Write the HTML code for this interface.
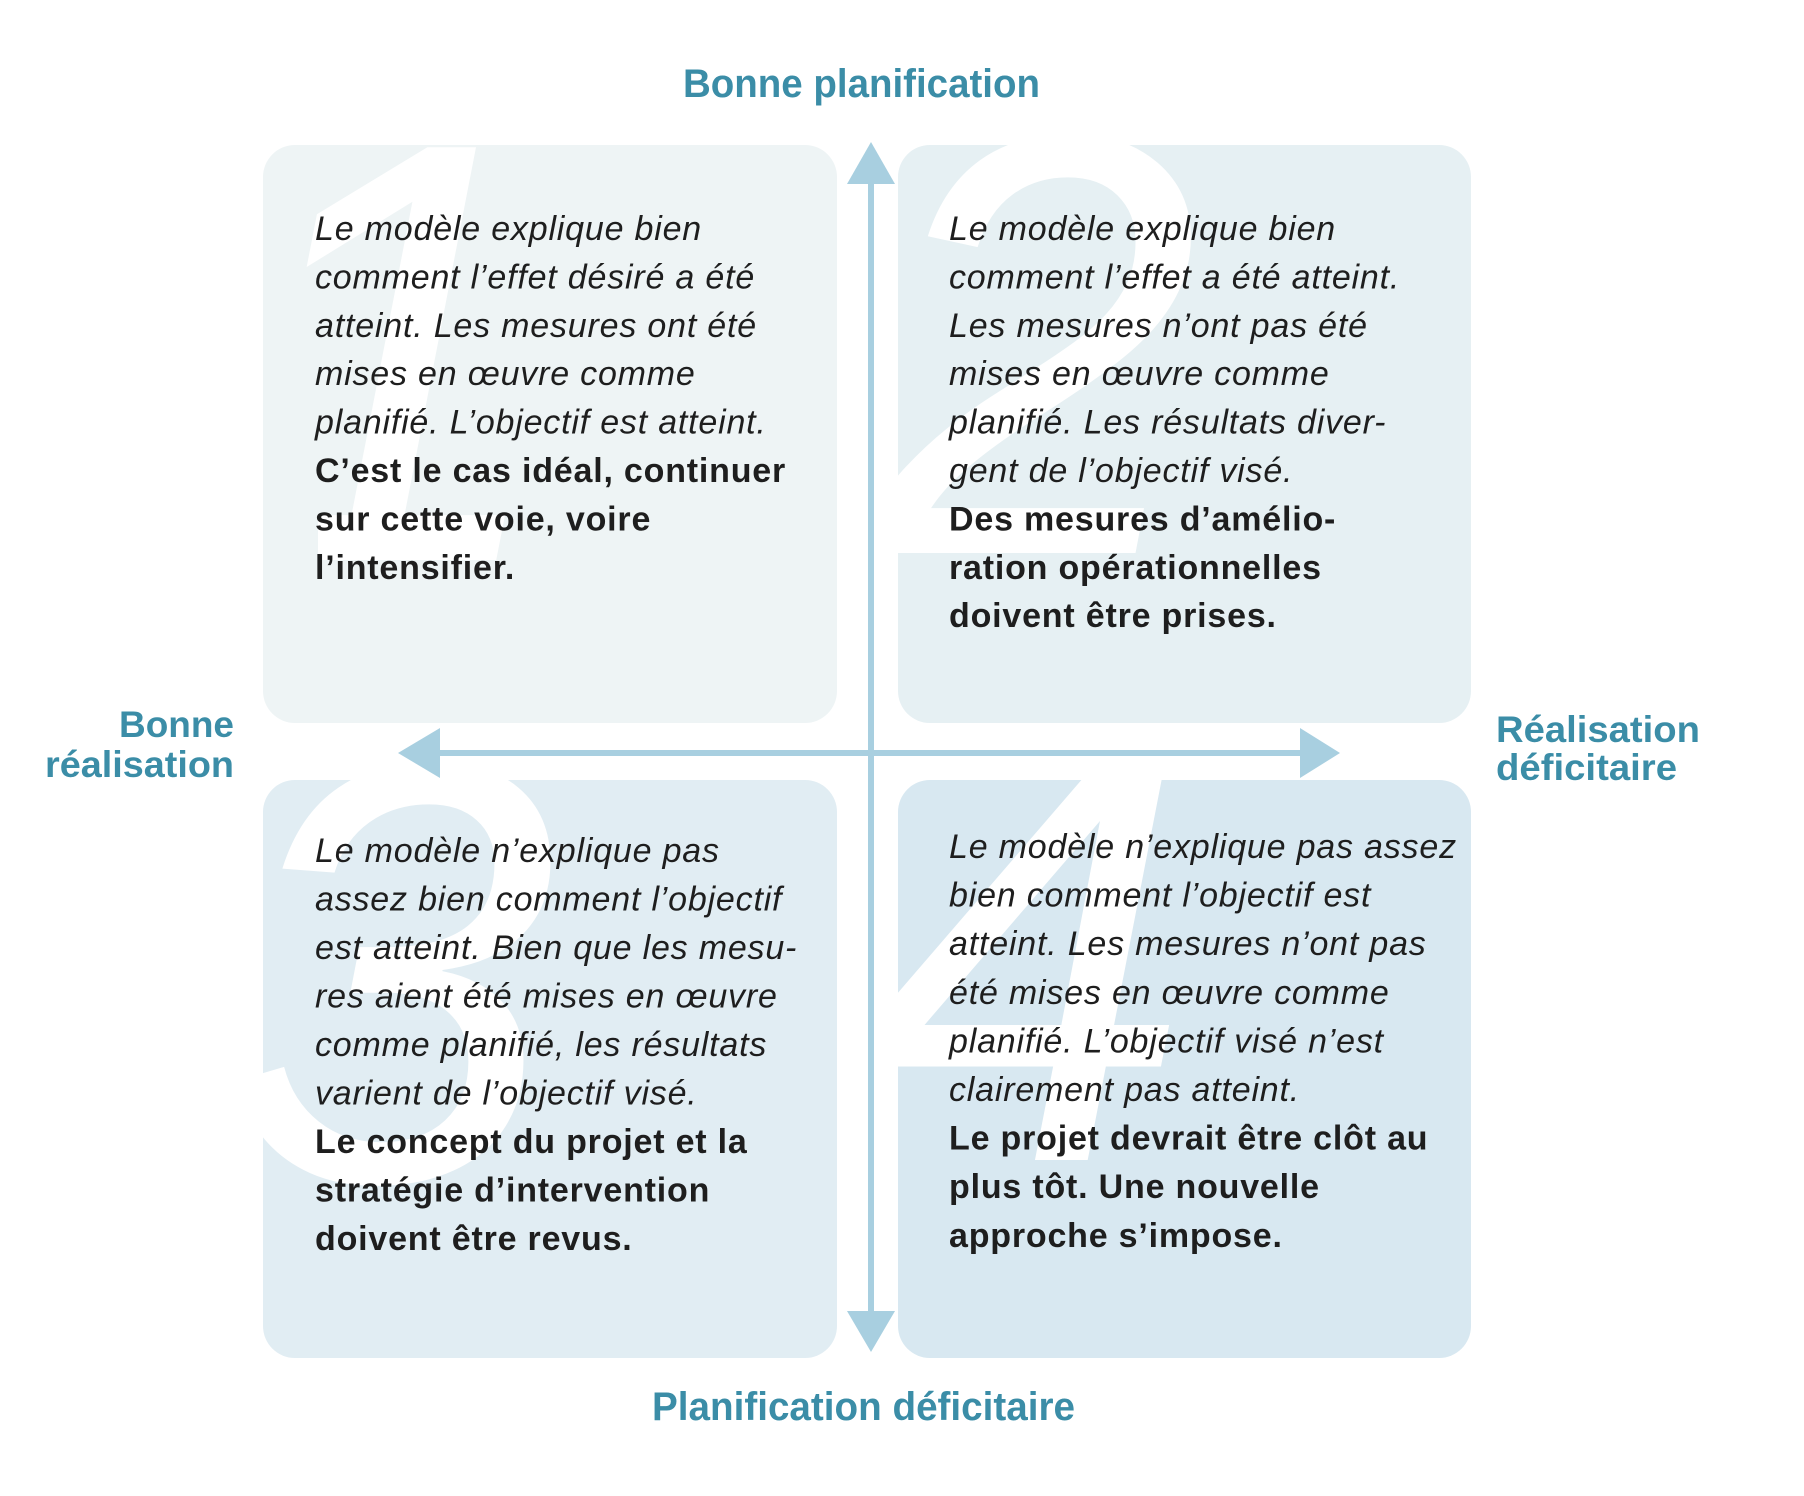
<!DOCTYPE html>
<html>
<head>
<meta charset="utf-8">
<style>
  html, body { margin: 0; padding: 0; background: #ffffff; }
  svg { display: block; }
  .it { font-family: "Liberation Sans", Arial, sans-serif; font-style: italic; font-size: 34px; letter-spacing: 0.8px; fill: #1e1e1e; }
  .bd { font-family: "Liberation Sans", Arial, sans-serif; font-weight: bold; font-size: 34px; letter-spacing: 0.8px; fill: #1e1e1e; }
  .lbl { font-family: "Liberation Sans", Arial, sans-serif; font-weight: bold; fill: #3b8da7; }
  .num { font-family: "Liberation Sans", Arial, sans-serif; font-style: italic; font-size: 600px; fill: #ffffff; }
</style>
</head>
<body>
<svg width="1804" height="1496" viewBox="0 0 1804 1496" xmlns="http://www.w3.org/2000/svg">
  <defs>
    <clipPath id="c1"><rect x="263" y="145" width="574" height="578" rx="32" ry="32"/></clipPath>
    <clipPath id="c1b"><polygon points="0,0 900,0 900,800 318,800 318,500 0,500"/></clipPath>
    <clipPath id="c2"><rect x="898" y="145" width="573" height="578" rx="32" ry="32"/></clipPath>
    <clipPath id="c3"><rect x="263" y="780" width="574" height="578" rx="32" ry="32"/></clipPath>
    <clipPath id="c4"><rect x="898" y="780" width="573" height="578" rx="32" ry="32"/></clipPath>
  </defs>

  <rect x="0" y="0" width="1804" height="1496" fill="#ffffff"/>

  <!-- Boxes -->
  <rect x="263" y="145" width="574" height="578" rx="32" ry="32" fill="#eef4f5"/>
  <rect x="898" y="145" width="573" height="578" rx="32" ry="32" fill="#e6f0f3"/>
  <rect x="263" y="780" width="574" height="578" rx="32" ry="32" fill="#e1edf3"/>
  <rect x="898" y="780" width="573" height="578" rx="32" ry="32" fill="#d8e8f1"/>

  <!-- Big background numerals -->
  <g clip-path="url(#c1)"><g clip-path="url(#c1b)"><text class="num" x="222" y="560">1</text></g></g>
  <g clip-path="url(#c2)"><text class="num" x="866" y="553">2</text></g>
  <g clip-path="url(#c3)"><text class="num" x="222" y="1180">3</text></g>
  <g clip-path="url(#c4)"><text class="num" x="858" y="1160">4</text></g>

  <!-- Axes -->
  <g fill="#a8cfe0">
    <rect x="868" y="180" width="6" height="1135"/>
    <polygon points="871,142 847,184 895,184"/>
    <polygon points="871,1352 847,1311 895,1311"/>
    <rect x="436" y="750" width="868" height="6"/>
    <polygon points="398,753 440,728 440,778"/>
    <polygon points="1340,753 1300,728 1300,778"/>
  </g>

  <!-- Axis labels -->
  <text class="lbl" x="683" y="97" font-size="40" textLength="357" lengthAdjust="spacingAndGlyphs">Bonne planification</text>
  <text class="lbl" x="652" y="1420" font-size="40" textLength="423" lengthAdjust="spacingAndGlyphs">Planification déficitaire</text>
  <text class="lbl" x="119" y="737" font-size="37" textLength="115" lengthAdjust="spacingAndGlyphs">Bonne</text>
  <text class="lbl" x="45" y="777" font-size="37" textLength="189" lengthAdjust="spacingAndGlyphs">réalisation</text>
  <text class="lbl" x="1496" y="742" font-size="37" textLength="204" lengthAdjust="spacingAndGlyphs">Réalisation</text>
  <text class="lbl" x="1496" y="780" font-size="37" textLength="181" lengthAdjust="spacingAndGlyphs">déficitaire</text>

  <!-- Box 1 -->
  <text class="it" x="315" y="240">Le modèle explique bien</text>
  <text class="it" x="315" y="288.4">comment l’effet désiré a été</text>
  <text class="it" x="315" y="336.8">atteint. Les mesures ont été</text>
  <text class="it" x="315" y="385.2">mises en œuvre comme</text>
  <text class="it" x="315" y="433.6">planifié. L’objectif est atteint.</text>
  <text class="bd" x="315" y="482">C’est le cas idéal, continuer</text>
  <text class="bd" x="315" y="530.4">sur cette voie, voire</text>
  <text class="bd" x="315" y="578.8">l’intensifier.</text>

  <!-- Box 2 -->
  <text class="it" x="949" y="240">Le modèle explique bien</text>
  <text class="it" x="949" y="288.4">comment l’effet a été atteint.</text>
  <text class="it" x="949" y="336.8">Les mesures n’ont pas été</text>
  <text class="it" x="949" y="385.2">mises en œuvre comme</text>
  <text class="it" x="949" y="433.6">planifié. Les résultats diver-</text>
  <text class="it" x="949" y="482">gent de l’objectif visé.</text>
  <text class="bd" x="949" y="530.4">Des mesures d’amélio-</text>
  <text class="bd" x="949" y="578.8">ration opérationnelles</text>
  <text class="bd" x="949" y="627.2">doivent être prises.</text>

  <!-- Box 3 -->
  <text class="it" x="315" y="862">Le modèle n’explique pas</text>
  <text class="it" x="315" y="910.5">assez bien comment l’objectif</text>
  <text class="it" x="315" y="959">est atteint. Bien que les mesu-</text>
  <text class="it" x="315" y="1007.5">res aient été mises en œuvre</text>
  <text class="it" x="315" y="1056">comme planifié, les résultats</text>
  <text class="it" x="315" y="1104.5">varient de l’objectif visé.</text>
  <text class="bd" x="315" y="1153">Le concept du projet et la</text>
  <text class="bd" x="315" y="1201.5">stratégie d’intervention</text>
  <text class="bd" x="315" y="1250">doivent être revus.</text>

  <!-- Box 4 -->
  <text class="it" x="949" y="858">Le modèle n’explique pas assez</text>
  <text class="it" x="949" y="906.6">bien comment l’objectif est</text>
  <text class="it" x="949" y="955.2">atteint. Les mesures n’ont pas</text>
  <text class="it" x="949" y="1003.8">été mises en œuvre comme</text>
  <text class="it" x="949" y="1052.4">planifié. L’objectif visé n’est</text>
  <text class="it" x="949" y="1101">clairement pas atteint.</text>
  <text class="bd" x="949" y="1149.6">Le projet devrait être clôt au</text>
  <text class="bd" x="949" y="1198.2">plus tôt. Une nouvelle</text>
  <text class="bd" x="949" y="1246.8">approche s’impose.</text>
</svg>
</body>
</html>
